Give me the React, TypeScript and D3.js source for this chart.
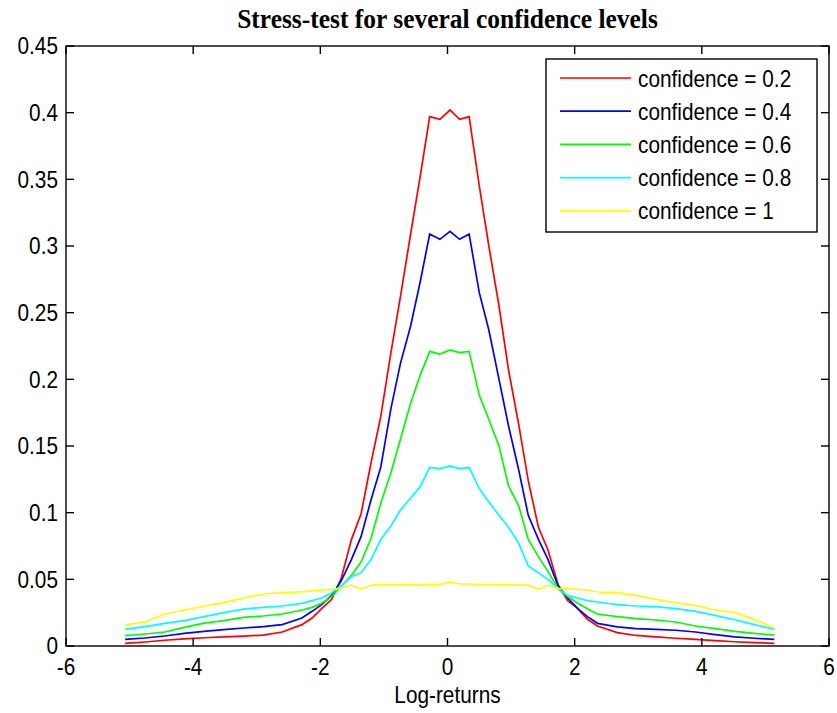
import React from "react";
import * as d3 from "d3";

// Log-return grid shared by every curve
const LOG_RETURNS = [
  -5.07, -4.76, -4.45, -4.14, -3.83, -3.52, -3.21, -2.9, -2.6, -2.29,
  -2.13, -1.98, -1.82, -1.67, -1.51, -1.36, -1.2, -1.05, -0.89, -0.74,
  -0.58, -0.43, -0.28, -0.12, 0.04, 0.19, 0.34, 0.5, 0.65, 0.81,
  0.96, 1.12, 1.27, 1.43, 1.58, 1.74, 1.89, 2.05, 2.2, 2.36,
  2.67, 2.97, 3.28, 3.59, 3.9, 4.21, 4.52, 4.83, 5.14,
];

const CONF_02 = [
  0.002, 0.003, 0.0043, 0.0054, 0.0062, 0.0068, 0.0074, 0.0082, 0.0105, 0.016,
  0.021, 0.028, 0.035, 0.051, 0.08, 0.099, 0.138, 0.172, 0.22, 0.262,
  0.309, 0.352, 0.397, 0.395, 0.402, 0.395, 0.397, 0.345, 0.3, 0.255,
  0.207, 0.166, 0.124, 0.089, 0.072, 0.046, 0.034, 0.028, 0.02, 0.015,
  0.01, 0.0079, 0.0068, 0.0058, 0.0049, 0.004, 0.0032, 0.0026, 0.002,
];

const CONF_04 = [
  0.005, 0.006, 0.0075, 0.0095, 0.011, 0.0123, 0.0135, 0.0145, 0.016, 0.021,
  0.026, 0.031, 0.038, 0.049, 0.065, 0.082, 0.11, 0.134, 0.178, 0.212,
  0.24, 0.273, 0.309, 0.305, 0.311, 0.305, 0.309, 0.265, 0.237, 0.2,
  0.165, 0.132, 0.098, 0.08, 0.065, 0.045, 0.036, 0.028, 0.022, 0.017,
  0.0143, 0.013, 0.0124, 0.0118, 0.0105, 0.0085, 0.0068, 0.0058, 0.005,
];

const CONF_06 = [
  0.0078, 0.009, 0.0105, 0.014, 0.0172, 0.019, 0.0215, 0.0225, 0.024, 0.027,
  0.029, 0.032, 0.037, 0.045, 0.053, 0.063, 0.081, 0.107, 0.13, 0.155,
  0.182, 0.203, 0.221, 0.219, 0.222, 0.22, 0.221, 0.188, 0.17, 0.15,
  0.12, 0.105, 0.08, 0.067, 0.056, 0.043, 0.037, 0.032, 0.028, 0.024,
  0.022, 0.0205, 0.0195, 0.018, 0.015, 0.013, 0.011, 0.0095, 0.0082,
];

const CONF_08 = [
  0.0125, 0.0145, 0.017, 0.019, 0.022, 0.025, 0.0277, 0.029, 0.03, 0.032,
  0.034, 0.036, 0.04, 0.045, 0.052, 0.055, 0.065, 0.08, 0.09, 0.102,
  0.111, 0.1195, 0.134, 0.133, 0.135, 0.133, 0.134, 0.118, 0.108, 0.098,
  0.089, 0.077, 0.06, 0.055, 0.05, 0.043, 0.038, 0.036, 0.034, 0.033,
  0.031, 0.03, 0.0295, 0.028, 0.026, 0.023, 0.0197, 0.016, 0.0125,
];

const CONF_10 = [
  0.0158, 0.018, 0.024, 0.027, 0.03, 0.0325, 0.036, 0.039, 0.04, 0.0407,
  0.0415, 0.042, 0.0425, 0.0435, 0.0457, 0.0427, 0.0457, 0.046, 0.046, 0.046,
  0.046, 0.0457, 0.046, 0.046, 0.048, 0.0465, 0.0465, 0.046, 0.046, 0.046,
  0.046, 0.0457, 0.0457, 0.0425, 0.0457, 0.0432, 0.043, 0.0425, 0.042, 0.0405,
  0.04, 0.038, 0.035, 0.0325, 0.0305, 0.027, 0.025, 0.02, 0.0133,
];

const SERIES_LABELS = [
  "confidence = 0.2",
  "confidence = 0.4",
  "confidence = 0.6",
  "confidence = 0.8",
  "confidence = 1",
];
const SERIES_VALUES = [CONF_02, CONF_04, CONF_06, CONF_08, CONF_10];
const SERIES_COLORS = ["#ff0000", "#0000ff", "#00ff00", "#00ffff", "#ffff00"];

const X_TICKS = [-6, -4, -2, 0, 2, 4, 6];
const Y_TICKS = [0, 0.05, 0.1, 0.15, 0.2, 0.25, 0.3, 0.35, 0.4, 0.45];
const Y_TICK_LABELS = ["0", "0.05", "0.1", "0.15", "0.2", "0.25", "0.3", "0.35", "0.4", "0.45"];

const TITLE = "Stress-test for several confidence levels";
const X_LABEL = "Log-returns";

const W = 837;
const H = 713;
const M = { left: 66, right: 829, top: 46, bottom: 646 };
const FONT = "'Liberation Sans', Arial, Helvetica, sans-serif";
const FS = 20.8;
const STRETCH = 1.12;
const TICK = 8;

function Label(props: {
  x: number;
  y: number;
  text: string;
  anchor?: string;
  size?: number;
  family?: string;
  weight?: string | number;
  sy?: number;
}) {
  const { x, y, text, anchor = "start", size = FS, family = FONT, weight = "normal", sy = STRETCH } = props;
  return (
    <text
      transform={`translate(${x},${y}) scale(1,${sy})`}
      textAnchor={anchor}
      fontFamily={family}
      fontSize={size}
      fontWeight={weight}
      fill="#000"
    >
      {text}
    </text>
  );
}

export default function App() {
  const x = d3.scaleLinear().domain([-6, 6]).range([M.left, M.right]);
  const y = d3.scaleLinear().domain([0, 0.45]).range([M.bottom, M.top]);

  const line = d3
    .line<number>()
    .x((_, i) => x(LOG_RETURNS[i]))
    .y((d) => y(d));

  const legend = { x0: 546, y0: 59, x1: 817, y1: 232, row0: 78, step: 33.2 };

  return (
    <svg
      width={W}
      height={H}
      style={{ position: "absolute", left: 0, top: 0, background: "#fff" }}
    >
      <rect x={0} y={0} width={W} height={H} fill="#fff" />

      {/* curves, drawn in legend order so later levels sit on top */}
      <g fill="none" strokeWidth={1.7} strokeLinejoin="miter">
        {SERIES_VALUES.map((vals, k) => (
          <path key={k} d={line(vals) || ""} stroke={SERIES_COLORS[k]} />
        ))}
      </g>

      {/* axes box with inward ticks on all sides */}
      <g stroke="#000" strokeWidth={1.4} fill="none">
        <rect x={M.left} y={M.top} width={M.right - M.left} height={M.bottom - M.top} />
        {X_TICKS.map((t) => (
          <g key={"xt" + t}>
            <line x1={x(t)} x2={x(t)} y1={M.bottom} y2={M.bottom - TICK} />
            <line x1={x(t)} x2={x(t)} y1={M.top} y2={M.top + TICK} />
          </g>
        ))}
        {Y_TICKS.map((t) => (
          <g key={"yt" + t}>
            <line x1={M.left} x2={M.left + TICK} y1={y(t)} y2={y(t)} />
            <line x1={M.right} x2={M.right - TICK} y1={y(t)} y2={y(t)} />
          </g>
        ))}
      </g>

      {X_TICKS.map((t) => (
        <Label key={"xl" + t} x={x(t)} y={M.bottom + 29} text={String(t)} anchor="middle" />
      ))}
      {Y_TICKS.map((t, i) => (
        <Label key={"yl" + t} x={M.left - 8} y={y(t) + 8.4} text={Y_TICK_LABELS[i]} anchor="end" />
      ))}

      <Label x={(M.left + M.right) / 2} y={M.bottom + 57} text={X_LABEL} anchor="middle" />
      <Label
        x={(M.left + M.right) / 2}
        y={28}
        text={TITLE}
        anchor="middle"
        size={25.5}
        family="'Liberation Serif', 'Times New Roman', serif"
        weight="bold"
        sy={1.08}
      />

      {/* legend */}
      <rect
        x={legend.x0}
        y={legend.y0}
        width={legend.x1 - legend.x0}
        height={legend.y1 - legend.y0}
        fill="#fff"
        stroke="#000"
        strokeWidth={1.4}
      />
      {SERIES_LABELS.map((lab, k) => {
        const ry = legend.row0 + k * legend.step;
        return (
          <g key={"lg" + k}>
            <line x1={560} x2={631} y1={ry} y2={ry} stroke={SERIES_COLORS[k]} strokeWidth={1.7} />
            <Label x={638} y={ry + 8.5} text={lab} />
          </g>
        );
      })}
    </svg>
  );
}
